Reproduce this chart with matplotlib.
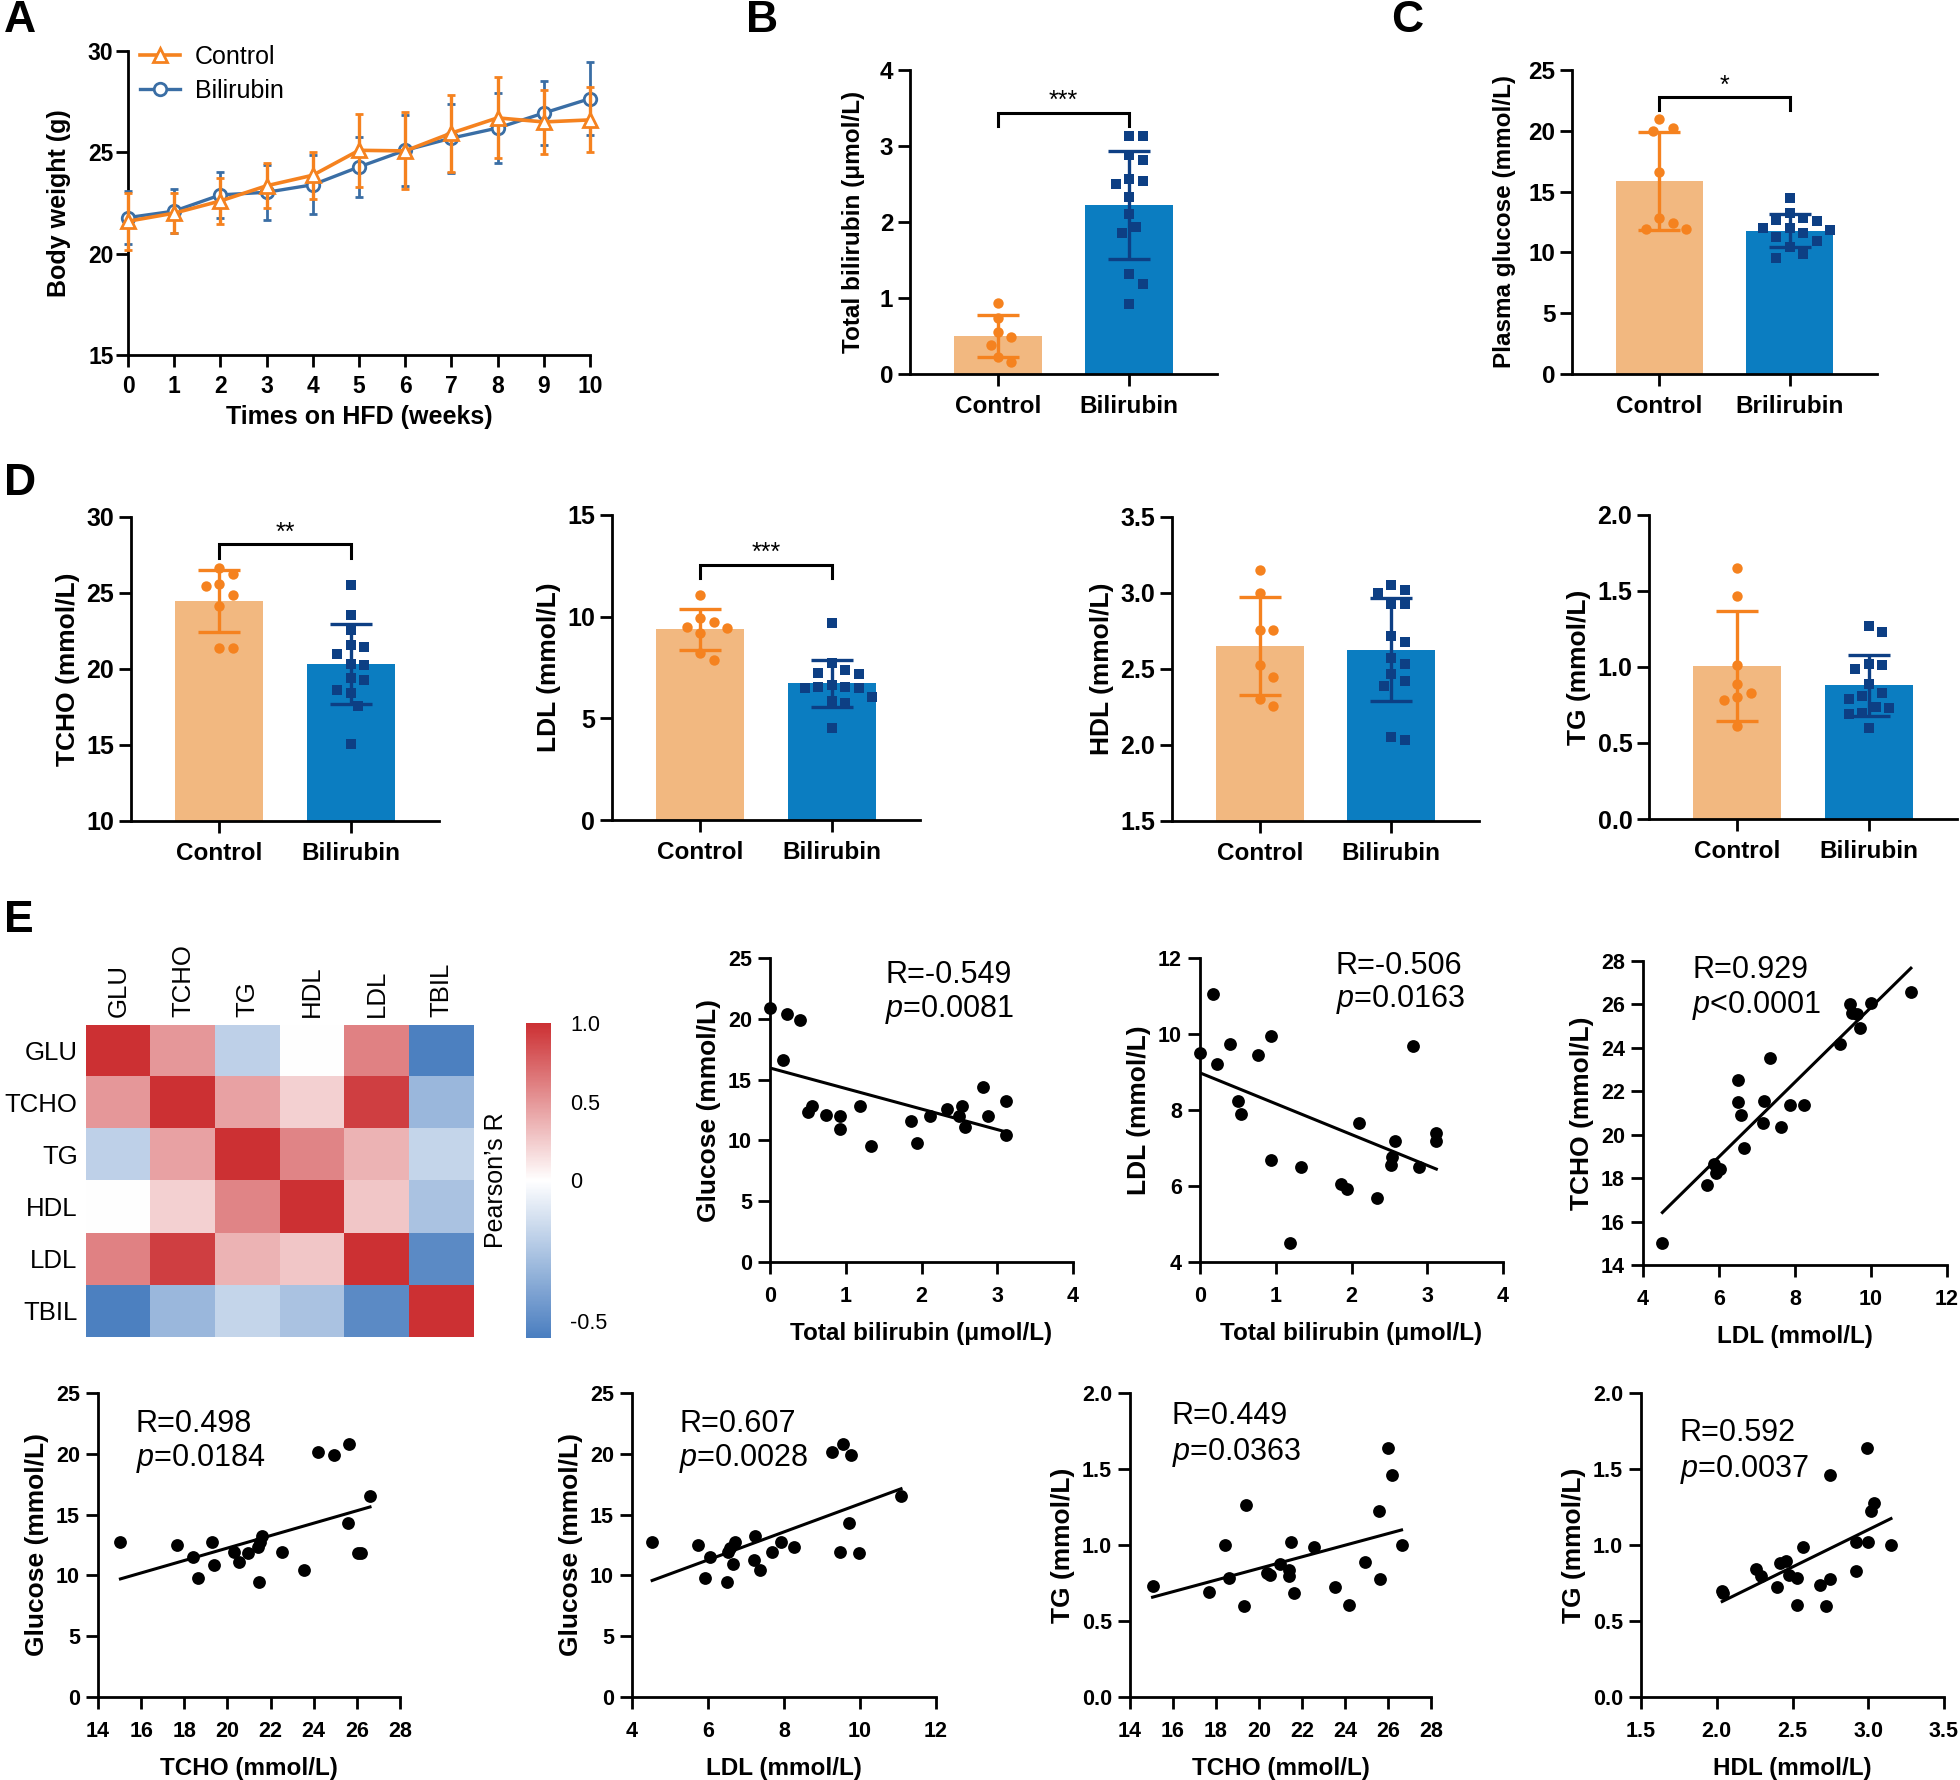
import numpy as np
import matplotlib
matplotlib.use('Agg')
import matplotlib.pyplot as plt
from matplotlib.colors import LinearSegmentedColormap, TwoSlopeNorm
from matplotlib.ticker import FormatStrFormatter
from matplotlib.lines import Line2D

plt.rcParams['font.family'] = ['Liberation Sans', 'DejaVu Sans']
plt.rcParams['mathtext.fontset'] = 'custom'
plt.rcParams['mathtext.rm'] = 'Liberation Sans'
plt.rcParams['mathtext.it'] = 'Liberation Sans:italic'
plt.rcParams['axes.linewidth'] = 2.0

W, H = 1960, 1780
ORANGE = '#f5821f'
ORANGE_BAR = '#f2b880'
BLUE_BAR = '#0b7dc1'
NAVY = '#0d3f84'
LINE_BLUE = '#3a6ea5'

# ---------------- data ----------------
# A: body weight
weeks = list(range(11))
bw_ctrl_mean = [21.6, 22.0, 22.6, 23.35, 23.87, 25.1, 25.07, 25.95, 26.7, 26.5, 26.6]
bw_ctrl_sd = [1.4, 1.0, 1.15, 1.1, 1.17, 1.8, 1.9, 1.9, 2.0, 1.6, 1.6]
bw_bili_mean = [21.78, 22.1, 22.9, 23.03, 23.4, 24.28, 25.1, 25.7, 26.2, 26.94, 27.65]
bw_bili_sd = [1.3, 1.1, 1.15, 1.35, 1.45, 1.5, 1.75, 1.7, 1.75, 1.6, 1.8]

# B-D: individual animals
tbil_ctrl = [0.93, 0.74, 0.55, 0.49, 0.38, 0.22, 0.16]
tbil_bili = [3.13, 3.13, 2.88, 2.82, 2.56, 2.54, 2.50, 2.33, 2.10, 1.94, 1.85, 1.32, 1.18, 0.92]
glu_ctrl = [21.0, 20.25, 19.97, 16.6, 12.8, 12.45, 11.95, 11.95]
glu_bili = [14.44, 13.26, 12.8, 12.65, 12.6, 11.97, 11.97, 11.84, 11.56, 11.23, 10.96, 10.47, 9.86, 9.56]
tcho_ctrl = [26.67, 26.28, 25.6, 25.45, 24.9, 24.13, 21.4, 21.4]
tcho_bili = [25.5, 23.54, 22.55, 21.6, 21.45, 21.0, 20.36, 20.25, 19.4, 19.3, 18.65, 18.4, 17.56, 15.04]
ldl_ctrl = [11.07, 9.95, 9.75, 9.51, 9.43, 9.18, 8.2, 7.87]
ldl_bili = [9.67, 7.7, 7.38, 7.25, 7.18, 6.64, 6.56, 6.56, 6.5, 6.48, 6.07, 5.87, 5.74, 4.51]
hdl_ctrl = [3.15, 3.0, 2.755, 2.755, 2.525, 2.45, 2.30, 2.256]
hdl_bili = [3.05, 3.02, 3.0, 2.93, 2.93, 2.72, 2.68, 2.57, 2.53, 2.47, 2.42, 2.39, 2.05, 2.03]
tg_ctrl = [1.65, 1.47, 1.01, 0.89, 0.83, 0.80, 0.78, 0.61]
tg_bili = [1.27, 1.23, 1.02, 1.01, 0.99, 0.89, 0.83, 0.81, 0.79, 0.74, 0.73, 0.70, 0.69, 0.60]

# significance brackets: (bracket top, leg bottom, stars)
sig_tbil = (3.44, 3.26, '***')
sig_glu = (22.74, 21.7, '*')
sig_tcho = (28.2, 27.33, '**')
sig_ldl = (12.54, 11.89, '***')

# E: correlation matrix
corr_names = ['GLU', 'TCHO', 'TG', 'HDL', 'LDL', 'TBIL']
corr = [
    [1.0, 0.498, -0.20, 0.0, 0.607, -0.549],
    [0.498, 1.0, 0.449, 0.22, 0.929, -0.31],
    [-0.20, 0.449, 1.0, 0.592, 0.36, -0.18],
    [0.0, 0.22, 0.592, 1.0, 0.27, -0.26],
    [0.607, 0.929, 0.36, 0.27, 1.0, -0.506],
    [-0.549, -0.31, -0.18, -0.26, -0.506, 1.0],
]

# E/F: scatter data
e1_tbil = [0, 0.17, 0.23, 0.39, 0.5, 0.56, 0.74, 0.92, 0.92, 1.19, 1.33, 1.86, 1.94, 2.11, 2.34, 2.5, 2.54, 2.57, 2.81, 2.88, 3.12, 3.12]
e1_glu = [20.92, 16.64, 20.37, 19.93, 12.34, 12.8, 12.07, 11.99, 10.95, 12.8, 9.55, 11.58, 9.82, 11.99, 12.62, 11.99, 12.8, 11.1, 14.4, 11.99, 13.25, 10.48]
e2_tbil = [0, 0.17, 0.22, 0.39, 0.5, 0.54, 0.76, 0.94, 0.94, 1.33, 1.19, 1.86, 1.94, 2.1, 2.34, 2.52, 2.54, 2.58, 2.81, 2.89, 3.12, 3.12]
e2_ldl = [9.51, 11.04, 9.22, 9.73, 8.24, 7.89, 9.46, 9.95, 6.68, 6.5, 4.51, 6.04, 5.91, 7.66, 5.69, 6.54, 6.76, 7.18, 9.68, 6.5, 7.39, 7.18]
e3_ldl = [4.51, 5.69, 5.91, 6.02, 5.86, 6.5, 6.5, 6.57, 6.66, 7.19, 7.17, 7.33, 7.64, 7.86, 8.24, 9.19, 9.45, 9.5, 9.63, 9.72, 9.99, 11.05]
e3_tcho = [15.03, 17.68, 18.25, 18.4, 18.65, 22.52, 21.49, 20.91, 19.37, 21.57, 20.52, 23.52, 20.34, 21.37, 21.37, 24.18, 26.0, 25.6, 25.55, 24.9, 26.08, 26.55]
f1_tcho = [15.04, 17.68, 18.41, 18.64, 19.3, 19.39, 20.32, 20.55, 20.96, 21.42, 21.51, 21.62, 21.48, 22.52, 23.54, 24.2, 24.96, 25.57, 25.65, 26.03, 26.2, 26.61]
f1_glu = [12.72, 12.5, 11.49, 9.77, 12.77, 10.86, 11.95, 11.13, 11.82, 12.31, 12.77, 13.24, 9.49, 11.95, 10.45, 20.16, 19.89, 14.34, 20.84, 11.87, 11.87, 16.55]
f2_ldl = [4.53, 5.73, 5.91, 6.06, 6.51, 6.53, 6.58, 6.67, 6.72, 7.2, 7.23, 7.37, 7.68, 7.91, 8.26, 9.25, 9.55, 9.75, 9.48, 9.7, 9.98, 11.08]
f2_glu = [12.72, 12.5, 9.77, 11.54, 9.44, 11.95, 12.22, 10.91, 12.77, 11.27, 13.24, 10.45, 11.95, 12.77, 12.31, 20.16, 20.84, 19.89, 11.95, 14.34, 11.87, 16.55]
f3_tcho = [15.05, 17.66, 18.41, 18.59, 19.31, 19.4, 20.39, 20.53, 20.97, 21.38, 21.41, 21.49, 21.61, 22.54, 23.53, 24.19, 24.95, 25.56, 25.65, 26.02, 26.2, 26.63]
f3_tg = [0.733, 0.69, 1.002, 0.783, 0.596, 1.265, 0.816, 0.80, 0.877, 0.794, 0.838, 1.018, 0.684, 0.987, 0.724, 0.603, 0.886, 1.221, 0.776, 1.638, 1.458, 1.002]
f4_hdl = [2.036, 2.04, 2.26, 2.29, 2.4, 2.42, 2.46, 2.48, 2.53, 2.53, 2.57, 2.68, 2.72, 2.745, 2.75, 2.92, 2.92, 2.99, 3.0, 3.02, 3.04, 3.15]
f4_tg = [0.695, 0.684, 0.842, 0.798, 0.724, 0.882, 0.893, 0.805, 0.783, 0.603, 0.987, 0.735, 0.596, 0.776, 1.463, 0.827, 1.018, 1.638, 1.018, 1.221, 1.276, 1.002]

fig = plt.figure(figsize=(W / 100, H / 100), dpi=100)


def box(l, t, r, b):
    return fig.add_axes([l / W, 1 - b / H, (r - l) / W, (b - t) / H])


def style(ax, fs, xfs=None, xpad=7, ypad=3.5):
    for s in ('top', 'right'):
        ax.spines[s].set_visible(False)
    ax.tick_params(direction='out', length=8.5, width=2)
    ax.tick_params(axis='y', labelsize=fs, pad=ypad)
    ax.tick_params(axis='x', labelsize=xfs if xfs else fs, pad=xpad)
    for lab in ax.get_xticklabels() + ax.get_yticklabels():
        lab.set_fontweight('bold')


def swarm(ax, vals, d):
    # simple beeswarm in pixel space
    t = ax.transData
    ppu = t.transform((1, 0))[0] - t.transform((0, 0))[0]
    ys = np.array([t.transform((0, v))[1] for v in vals])
    offs = np.zeros(len(vals))
    placed = []
    for i in np.argsort(-ys):
        cands = [0.0]
        for k in range(1, 30):
            cands += [k * d * 0.5, -k * d * 0.5]
        for c in cands:
            if all((c - px) ** 2 + (ys[i] - py) ** 2 >= d * d for px, py in placed):
                offs[i] = c
                placed.append((c, ys[i]))
                break
    return offs / ppu


def bar_panel(ax, ctrl, bili, ylim, yticks, fmt, ylabel, names, tick_fs,
              ylab_fs, ylab_pad, sig=None):
    ax.set_xlim(-0.67, 1.67)
    ax.set_ylim(ylim)
    ax.set_yticks(yticks)
    ax.yaxis.set_major_formatter(FormatStrFormatter(fmt))
    ax.set_xticks([0, 1], names)
    groups = [(ctrl, ORANGE_BAR, ORANGE, 'o'), (bili, BLUE_BAR, NAVY, 's')]
    for i, (vals, bc, pc, mk) in enumerate(groups):
        v = np.array(vals)
        m = v.mean()
        sd = v.std(ddof=1)
        ax.bar(i, m - ylim[0], bottom=ylim[0], width=0.67, color=bc, zorder=1)
        ax.errorbar(i, m, yerr=sd, color=pc, capsize=15, elinewidth=2.4,
                    capthick=2.4, zorder=3)
        offs = swarm(ax, v, 13.5)
        ax.scatter(i + offs, v, s=56, marker=mk, color=pc, linewidths=0,
                   zorder=4, clip_on=False)
    if sig is not None:
        top, leg, stars = sig
        ax.plot([0, 0, 1, 1], [leg, top, top, leg], color='black', lw=2.2,
                solid_joinstyle='miter', zorder=5)
        ax.text(0.5, top, stars, ha='center', va='bottom', fontsize=18)
    style(ax, tick_fs, 17.5, xpad=6.5)
    ax.set_ylabel(ylabel, fontsize=ylab_fs, fontweight='bold', labelpad=ylab_pad)


def scatter_panel(ax, x, y, xlim, xticks, xfmt, ylim, yticks, yfmt, xlabel, ylabel,
                  rtxt, ptxt, tx, ty1, ty2):
    ax.set_xlim(xlim)
    ax.set_ylim(ylim)
    ax.set_xticks(xticks)
    ax.set_yticks(yticks)
    ax.xaxis.set_major_formatter(FormatStrFormatter(xfmt))
    ax.yaxis.set_major_formatter(FormatStrFormatter(yfmt))
    ax.scatter(x, y, s=85, color='black', linewidths=0, zorder=3, clip_on=False)
    k, b0 = np.polyfit(x, y, 1)
    xx = np.array([min(x), max(x)])
    ax.plot(xx, k * xx + b0, color='black', lw=2.2, zorder=2)
    ax.text(tx, ty1, rtxt, fontsize=22, ha='left', va='center')
    ax.text(tx, ty2, ptxt, fontsize=22, ha='left', va='center')
    style(ax, 15.5, xpad=8.5, ypad=4.5)
    ax.set_xlabel(xlabel, fontsize=17.5, fontweight='bold', labelpad=11)
    ax.set_ylabel(ylabel, fontsize=19, fontweight='bold', labelpad=5)


# ---------------- A ----------------
ax = box(128, 51, 590, 355)
ax.set_xlim(0, 10)
ax.set_ylim(15, 30)
ax.set_xticks(weeks)
ax.set_yticks([15, 20, 25, 30])
ax.errorbar(weeks, bw_bili_mean, yerr=bw_bili_sd, color=LINE_BLUE, lw=2.4,
            marker='o', ms=9, mfc='white', mew=2, capsize=3, elinewidth=2,
            capthick=2, zorder=3, clip_on=False)
ax.errorbar(weeks, bw_ctrl_mean, yerr=bw_ctrl_sd, color=ORANGE, lw=2.6,
            marker='^', ms=10, mfc='white', mew=2, capsize=3, elinewidth=2.4,
            capthick=2.4, zorder=4, clip_on=False)
handles = [Line2D([], [], color=ORANGE, lw=2.6, marker='^', ms=10, mfc='white', mew=2),
           Line2D([], [], color=LINE_BLUE, lw=2.4, marker='o', ms=9, mfc='white', mew=2)]
ax.legend(handles, ['Control', 'Bilirubin'], loc='upper left',
          bbox_to_anchor=(0.025, 1.02), frameon=False, fontsize=18,
          handlelength=1.6, handletextpad=0.6, labelspacing=0.4, borderpad=0,
          borderaxespad=0)
style(ax, 16.5, xpad=6, ypad=2)
ax.set_xlabel('Times on HFD (weeks)', fontsize=18, fontweight='bold', labelpad=5)
ax.set_ylabel('Body weight (g)', fontsize=18, fontweight='bold', labelpad=12)

# ---------------- B, C ----------------
ax = box(910, 70, 1217, 374)
bar_panel(ax, tbil_ctrl, tbil_bili, (0, 4), [0, 1, 2, 3, 4], '%d',
          'Total bilirubin (μmol/L)', ['Control', 'Bilirubin'], 17.5, 17.5, 11, sig_tbil)
ax = box(1572, 70, 1877, 374)
bar_panel(ax, glu_ctrl, glu_bili, (0, 25), [0, 5, 10, 15, 20, 25], '%d',
          'Plasma glucose (mmol/L)', ['Control', 'Brilirubin'], 17.5, 17.5, 9, sig_glu)

# ---------------- D ----------------
ax = box(131, 517, 439, 821)
bar_panel(ax, tcho_ctrl, tcho_bili, (10, 30), [10, 15, 20, 25, 30], '%d',
          'TCHO (mmol/L)', ['Control', 'Bilirubin'], 18, 19, 5, sig_tcho)
ax = box(612, 515, 920, 820)
bar_panel(ax, ldl_ctrl, ldl_bili, (0, 15), [0, 5, 10, 15], '%d',
          'LDL (mmol/L)', ['Control', 'Bilirubin'], 18, 19, 5, sig_ldl)
ax = box(1172, 517, 1479, 821)
bar_panel(ax, hdl_ctrl, hdl_bili, (1.5, 3.5), [1.5, 2.0, 2.5, 3.0, 3.5], '%.1f',
          'HDL (mmol/L)', ['Control', 'Bilirubin'], 18, 19, 5)
ax = box(1649, 515, 1957, 819)
bar_panel(ax, tg_ctrl, tg_bili, (0, 2), [0, 0.5, 1.0, 1.5, 2.0], '%.1f',
          'TG (mmol/L)', ['Control', 'Bilirubin'], 18, 19, 5)

# ---------------- E heatmap ----------------
ax = box(86, 1025, 474, 1337)
cmap = LinearSegmentedColormap.from_list('rb', ['#4a7ec0', '#ffffff', '#cc3033'])
norm = TwoSlopeNorm(vmin=-0.56, vcenter=0.0, vmax=1.0)
im = ax.imshow(np.array(corr), cmap=cmap, norm=norm, aspect='auto',
               interpolation='nearest')
ax.xaxis.tick_top()
ax.set_xticks(range(6), corr_names, rotation=90, fontsize=18.5)
ax.set_yticks(range(6), corr_names, fontsize=18.5)
ax.tick_params(length=0, pad=6)
for s in ax.spines.values():
    s.set_visible(False)
cax = box(526, 1023, 551, 1338)
cb = fig.colorbar(im, cax=cax)
cb.set_ticks([-0.5, 0, 0.5, 1.0])
cb.set_ticklabels(['-0.5', '0', '0.5', '1.0'])
cb.outline.set_visible(False)
cax.tick_params(length=0, labelsize=15.5, pad=14)
cb.set_label('Pearson’s R', fontsize=18, labelpad=13)
cax.yaxis.set_label_position('left')

# ---------------- E scatter ----------------
ax = box(770, 958, 1073, 1262)
scatter_panel(ax, e1_tbil, e1_glu, (0, 4), [0, 1, 2, 3, 4], '%d', (0, 25),
              [0, 5, 10, 15, 20, 25], '%d', 'Total bilirubin (μmol/L)',
              'Glucose (mmol/L)', 'R=-0.549', '$p$=0.0081', 1.52, 23.6, 20.8)
ax = box(1200, 958, 1503, 1262)
scatter_panel(ax, e2_tbil, e2_ldl, (0, 4), [0, 1, 2, 3, 4], '%d', (4, 12),
              [4, 6, 8, 10, 12], '%d', 'Total bilirubin (μmol/L)',
              'LDL (mmol/L)', 'R=-0.506', '$p$=0.0163', 1.79, 11.78, 10.9)
ax = box(1643, 961, 1947, 1265)
scatter_panel(ax, e3_ldl, e3_tcho, (4, 12), [4, 6, 8, 10, 12], '%d', (14, 28),
              [14, 16, 18, 20, 22, 24, 26, 28], '%d', 'LDL (mmol/L)',
              'TCHO (mmol/L)', 'R=0.929', '$p$<0.0001', 5.29, 27.58, 25.95)

# ---------------- bottom row ----------------
ax = box(98, 1393, 400, 1697)
scatter_panel(ax, f1_tcho, f1_glu, (14, 28), list(range(14, 29, 2)), '%d', (0, 25),
              [0, 5, 10, 15, 20, 25], '%d', 'TCHO (mmol/L)',
              'Glucose (mmol/L)', 'R=0.498', '$p$=0.0184', 15.74, 22.48, 19.6)
ax = box(632, 1393, 936, 1697)
scatter_panel(ax, f2_ldl, f2_glu, (4, 12), [4, 6, 8, 10, 12], '%d', (0, 25),
              [0, 5, 10, 15, 20, 25], '%d', 'LDL (mmol/L)',
              'Glucose (mmol/L)', 'R=0.607', '$p$=0.0028', 5.24, 22.48, 19.6)
ax = box(1130, 1393, 1431, 1697)
scatter_panel(ax, f3_tcho, f3_tg, (14, 28), list(range(14, 29, 2)), '%d', (0, 2),
              [0, 0.5, 1.0, 1.5, 2.0], '%.1f', 'TCHO (mmol/L)',
              'TG (mmol/L)', 'R=0.449', '$p$=0.0363', 15.95, 1.85, 1.61)
ax = box(1641, 1393, 1944, 1697)
scatter_panel(ax, f4_hdl, f4_tg, (1.5, 3.5), [1.5, 2.0, 2.5, 3.0, 3.5], '%.1f', (0, 2),
              [0, 0.5, 1.0, 1.5, 2.0], '%.1f', 'HDL (mmol/L)',
              'TG (mmol/L)', 'R=0.592', '$p$=0.0037', 1.756, 1.74, 1.5)

# panel letters
for letter, x, y in [('A', 4, 0), ('B', 746, 0), ('C', 1391, 0), ('D', 4, 463), ('E', 4, 900)]:
    fig.text(x / W, 1 - y / H, letter, fontsize=32, fontweight='bold', ha='left', va='top')

fig.savefig('out.png', dpi=100)
